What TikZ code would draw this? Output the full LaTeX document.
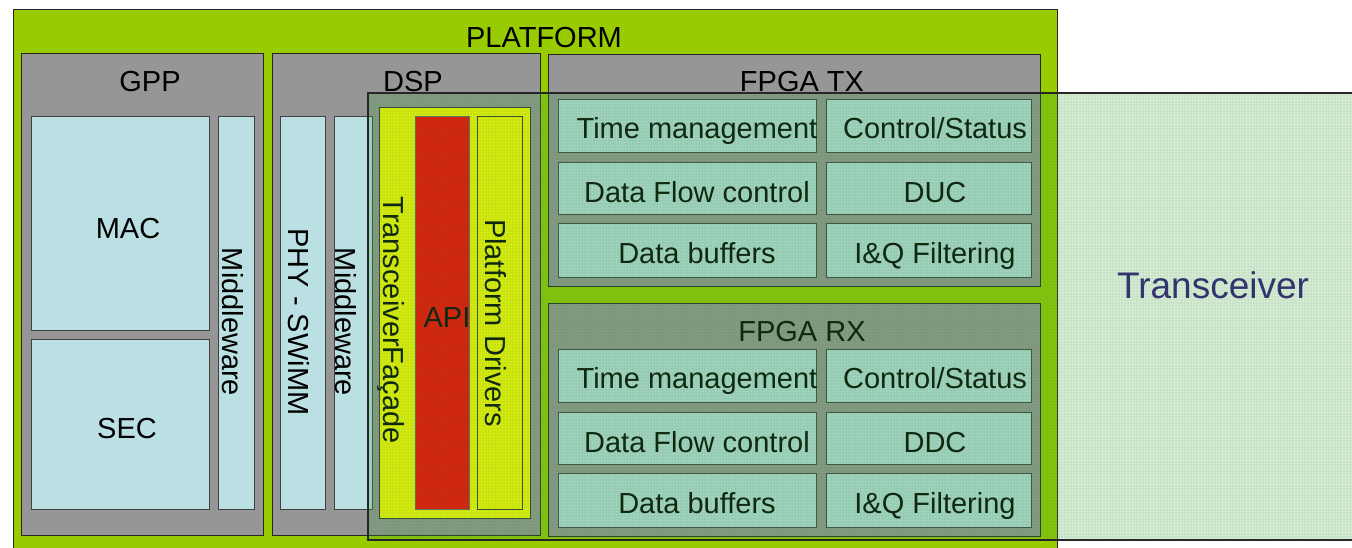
\documentclass[tikz,border=0pt]{standalone}
\usepackage{fontspec}
\setmainfont{Liberation Sans}
\usetikzlibrary{fit,patterns}

\definecolor{platgreen}{RGB}{153,204,0}
\definecolor{boxgray}{RGB}{150,150,150}
\definecolor{paleblue}{RGB}{187,224,227}
\definecolor{facadeyellow}{RGB}{255,255,0}
\definecolor{apired}{RGB}{255,0,0}
\definecolor{overlaygreen}{RGB}{70,170,70}
\definecolor{gridgreen}{RGB}{40,130,40}
\definecolor{tcvblue}{RGB}{51,51,110}

\tikzset{
  area/.style={fit={#1}, inner sep=0pt, outer sep=0pt},
  platformbox/.style={draw=black!85, line width=0.9pt, fill=platgreen},
  panel/.style={draw=black!85, line width=0.9pt, fill=boxgray},
  block/.style={draw=black!75, line width=0.8pt, fill=paleblue},
  facade/.style={draw=black!80, line width=0.8pt, fill=facadeyellow},
  apibox/.style={draw=black!60, line width=0.6pt, fill=apired},
  drvbox/.style={draw=black!80, line width=0.6pt, fill=facadeyellow},
  lbl/.style={font=\fontsize{29}{29}\selectfont, inner sep=0pt, anchor=base},
  vlbl/.style={lbl, rotate=-90},
}

\begin{document}
\begin{tikzpicture}[x=1pt, y=-1pt]
\useasboundingbox (0,0) rectangle (1352,547);

% platform frame
\node[platformbox, area={(13,9) (1057,550)}] (platform) {};
\node[lbl] (tplatform) at (544,47) {PLATFORM};

% general purpose processor
\node[panel, area={(21,53) (263,535)}] (gpp) {};
\node[lbl] (tgpp) at (150,91) {GPP};
\node[block, area={(31,116) (209,330)}] (mac) {};
\node[lbl] (tmac) at (128,238) {MAC};
\node[block, area={(31,339) (209,509)}] (sec) {};
\node[lbl] (tsec) at (127,438) {SEC};
\node[block, area={(218,116) (254,509)}] (gppmw) {};
\node[vlbl] (tgppmw) at (222,322) {Middleware};

% digital signal processor
\node[panel, area={(272,53) (540,535)}] (dsp) {};
\node[lbl] (tdsp) at (413,91) {DSP};
\node[block, area={(280,116) (325,509)}] (phy) {};
\node[vlbl] (tphy) at (288,322) {PHY - SWiMM};
\node[block, area={(334,116) (372,509)}] (dspmw) {};
\node[vlbl] (tdspmw) at (335,322) {Middleware};
\node[facade, area={(379,107) (530,518)}] (facade) {};
\node[vlbl] (tfacade) at (383,320) {TransceiverFaçade};
\node[apibox, area={(415,116) (469,509)}] (api) {};
\node[lbl] (tapi) at (447,327) {API};
\node[drvbox, area={(477,116) (522,509)}] (drv) {};
\node[vlbl] (tdrv) at (485,323) {Platform Drivers};

% FPGA transmit chain
\node[panel, area={(548,54) (1040,286)}] (fpgatx) {};
\node[lbl] (tfpgatx) at (802,91) {FPGA TX};
\node[block, area={(558,99) (816,152)}] (txa) {};
\node[block, area={(826,99) (1031,152)}] (txb) {};
\node[block, area={(558,162) (816,214)}] (txc) {};
\node[block, area={(826,162) (1031,214)}] (txd) {};
\node[block, area={(558,223) (816,277)}] (txe) {};
\node[block, area={(826,223) (1031,277)}] (txf) {};
\node[lbl] (ttxa) at (697,138) {Time management};
\node[lbl] (ttxb) at (935,138) {Control/Status};
\node[lbl] (ttxc) at (697,202) {Data Flow control};
\node[lbl] (ttxd) at (935,202) {DUC};
\node[lbl] (ttxe) at (697,263) {Data buffers};
\node[lbl] (ttxf) at (935,263) {I\&Q Filtering};

% FPGA receive chain
\node[panel, area={(548,303) (1040,536)}] (fpgarx) {};
\node[lbl] (tfpgarx) at (802,341) {FPGA RX};
\node[block, area={(558,349) (816,402)}] (rxa) {};
\node[block, area={(826,349) (1031,402)}] (rxb) {};
\node[block, area={(558,412) (816,464)}] (rxc) {};
\node[block, area={(826,412) (1031,464)}] (rxd) {};
\node[block, area={(558,473) (816,527)}] (rxe) {};
\node[block, area={(826,473) (1031,527)}] (rxf) {};
\node[lbl] (trxa) at (697,388) {Time management};
\node[lbl] (trxb) at (935,388) {Control/Status};
\node[lbl] (trxc) at (697,452) {Data Flow control};
\node[lbl] (trxd) at (935,452) {DDC};
\node[lbl] (trxe) at (697,513) {Data buffers};
\node[lbl] (trxf) at (935,513) {I\&Q Filtering};

% transceiver region laid over the platform: a light green tint with a fine grid
\fill[overlaygreen, fill opacity=0.2] (368,93) rectangle (1356,540);
\begin{scope}[transparency group, opacity=0.42]
  \fill[pattern=grid, pattern color=gridgreen] (368,93) rectangle (1356,540);
\end{scope}
\node[draw=black!85, line width=1.2pt, area={(368,93) (1356,540)}] (transceiver) {};
\node[lbl, font=\fontsize{37}{37}\selectfont, text=tcvblue] (ttransceiver) at (1213,298) {Transceiver};
\end{tikzpicture}
\end{document}
